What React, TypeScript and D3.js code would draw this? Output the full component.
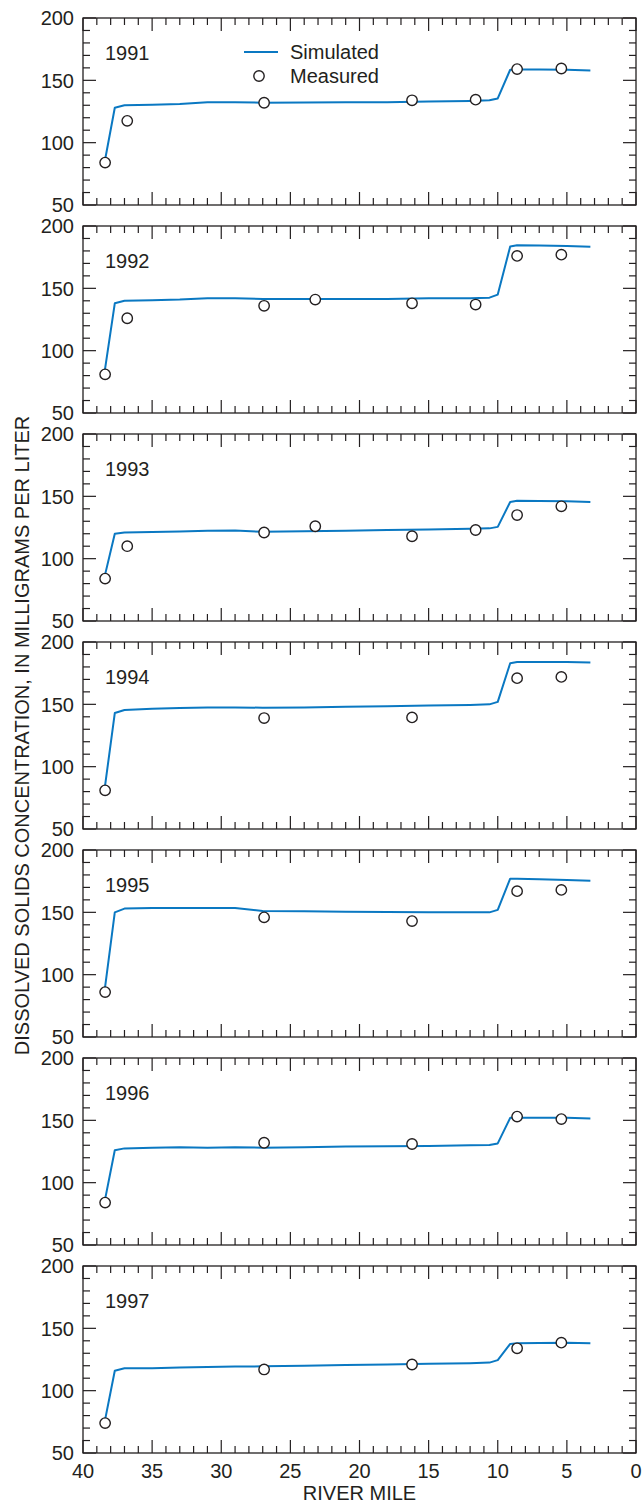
import React from "react";
import * as d3 from "d3";

// River miles of the simulated-concentration nodes (shared by all years)
const simMiles = [38.45, 37.7, 37.0, 35, 33, 31, 29, 27, 24, 21, 18, 15, 12, 10.6, 10.0, 9.1, 8.6, 7, 5, 3.3];

const sim1991 = [83.5, 128, 130, 130.5, 131, 132.5, 132.5, 132, 132.3, 132.5, 132.5, 133, 133.5, 134, 135.5, 158.5, 158.7, 158.6, 158.5, 157.8];
const sim1992 = [82, 138, 140, 140.5, 141, 142, 142, 141.5, 141.5, 141.5, 141.5, 142, 142, 142.5, 145, 183.5, 184.5, 184.3, 184, 183.3];
const sim1993 = [85, 120, 121, 121.3, 121.8, 122.3, 122.5, 121.5, 122, 122.3, 123, 123.3, 124, 124.3, 125.5, 145.5, 146.5, 146.3, 146, 145.5];
const sim1994 = [81, 143, 145.5, 146.5, 147, 147.5, 147.5, 147.3, 147.5, 148, 148.5, 149, 149.5, 150, 152, 183, 184, 184, 184, 183.5];
const sim1995 = [86, 150, 153, 153.5, 153.5, 153.5, 153.5, 151, 150.8, 150.5, 150.3, 150, 150, 150, 152, 177, 177, 176.5, 176, 175.3];
const sim1996 = [84, 126, 127.5, 128, 128.5, 128, 128.5, 128, 128.5, 129, 129.3, 129.5, 130, 130.3, 131.5, 152, 152, 152, 152, 151.5];
const sim1997 = [74, 116, 118, 118, 118.5, 119, 119.3, 119.5, 120, 120.5, 121, 121.5, 122, 122.5, 124.5, 137.5, 138, 138.3, 138.5, 138];

// Measured dissolved-solids samples
const measMilesA = [38.4, 36.8, 26.9, 16.2, 11.6, 8.6, 5.4];
const measMilesB = [38.4, 36.8, 26.9, 23.2, 16.2, 11.6, 8.6, 5.4];
const measMilesC = [38.4, 26.9, 16.2, 8.6, 5.4];

const meas1991 = [84, 117.5, 132, 134, 134.5, 159, 159.5];
const meas1992 = [81, 126, 136, 141, 138, 137, 176, 177];
const meas1993 = [84, 110, 121, 126, 118, 123, 135, 142];
const meas1994 = [81, 139, 139.5, 171, 172];
const meas1995 = [86, 146, 143, 167, 168];
const meas1996 = [84, 132, 131, 153, 151];
const meas1997 = [74, 117, 121, 134, 138.5];

const years = ["1991", "1992", "1993", "1994", "1995", "1996", "1997"];
const simSeries = [sim1991, sim1992, sim1993, sim1994, sim1995, sim1996, sim1997];
const measSeries = [meas1991, meas1992, meas1993, meas1994, meas1995, meas1996, meas1997];
const measMiles = [measMilesA, measMilesB, measMilesB, measMilesC, measMilesC, measMilesC, measMilesC];

const xTickLabels = [40, 35, 30, 25, 20, 15, 10, 5, 0];
const yTickLabels = [50, 100, 150, 200];

const W = 643;
const H = 1505;
const left = 83;
const right = 636;
const top0 = 18;
const panelH = 187;
const panelStep = 208;
const FONT = "'Liberation Sans', Arial, sans-serif";
const FS = 20;
const BLUE = "#0a78c2";
const INK = "#231f20";

export default function App() {
  const x = d3.scaleLinear().domain([40, 0]).range([left, right]);
  const xMinor = d3.range(0, 41, 1);
  const yMinor = d3.range(50, 201, 10);

  return (
    <svg
      width={W}
      height={H}
      style={{ position: "absolute", left: 0, top: 0, background: "#fff" }}
      fontFamily={FONT}
    >
      {years.map((yr, i) => {
        const top = top0 + i * panelStep;
        const y = d3.scaleLinear().domain([50, 200]).range([top + panelH, top]);
        const line = d3
          .line<number>()
          .x((_, k) => x(simMiles[k]))
          .y((v) => y(v));
        const isLast = i === years.length - 1;
        return (
          <g key={yr}>
            {/* frame */}
            <rect x={left} y={top} width={right - left} height={panelH} fill="none" stroke={INK} strokeWidth={1.3} />
            {/* x ticks, top and bottom, pointing inward */}
            {xMinor.map((m) => {
              const len = m % 5 === 0 ? 13 : 7;
              return (
                <g key={"xt" + m} stroke={INK} strokeWidth={1.2}>
                  <line x1={x(m)} x2={x(m)} y1={top} y2={top + len} />
                  <line x1={x(m)} x2={x(m)} y1={top + panelH} y2={top + panelH - len} />
                </g>
              );
            })}
            {/* y ticks, left and right, pointing inward */}
            {yMinor.map((v) => {
              const len = v % 50 === 0 ? 13 : 7;
              return (
                <g key={"yt" + v} stroke={INK} strokeWidth={1.2}>
                  <line x1={left} x2={left + len} y1={y(v)} y2={y(v)} />
                  <line x1={right} x2={right - len} y1={y(v)} y2={y(v)} />
                </g>
              );
            })}
            {yTickLabels.map((v) => (
              <text
                key={"yl" + v}
                x={left - 9}
                y={y(v)}
                dy="0.36em"
                textAnchor="end"
                fontSize={FS}
                fill={INK}
              >
                {v}
              </text>
            ))}
            <text x={105} y={top + 42} fontSize={FS} fill={INK}>
              {yr}
            </text>
            <path d={line(simSeries[i]) || ""} fill="none" stroke={BLUE} strokeWidth={2} strokeLinejoin="round" />
            {measSeries[i].map((v, k) => (
              <circle
                key={"m" + k}
                cx={x(measMiles[i][k])}
                cy={y(v)}
                r={5.2}
                fill="#fff"
                stroke={INK}
                strokeWidth={1.4}
              />
            ))}
            {i === 0 && (
              <g>
                <line x1={244} x2={278} y1={top + 34} y2={top + 34} stroke={BLUE} strokeWidth={2} />
                <text x={290} y={top + 41} fontSize={FS} fill={INK}>
                  Simulated
                </text>
                <circle cx={259} cy={top + 58} r={5.2} fill="#fff" stroke={INK} strokeWidth={1.4} />
                <text x={290} y={top + 65} fontSize={FS} fill={INK}>
                  Measured
                </text>
              </g>
            )}
            {isLast &&
              xTickLabels.map((m) => (
                <text
                  key={"xl" + m}
                  x={x(m)}
                  y={top + panelH + 25}
                  textAnchor="middle"
                  fontSize={FS}
                  fill={INK}
                >
                  {m}
                </text>
              ))}
          </g>
        );
      })}
      <text x={(left + right) / 2} y={1500} textAnchor="middle" fontSize={FS} fill={INK}>
        RIVER MILE
      </text>
      <text
        transform={`translate(29, ${(top0 + top0 + 6 * panelStep + panelH) / 2}) rotate(-90)`}
        textAnchor="middle"
        fontSize={FS}
        fill={INK}
      >
        DISSOLVED SOLIDS CONCENTRATION, IN MILLIGRAMS PER LITER
      </text>
    </svg>
  );
}
